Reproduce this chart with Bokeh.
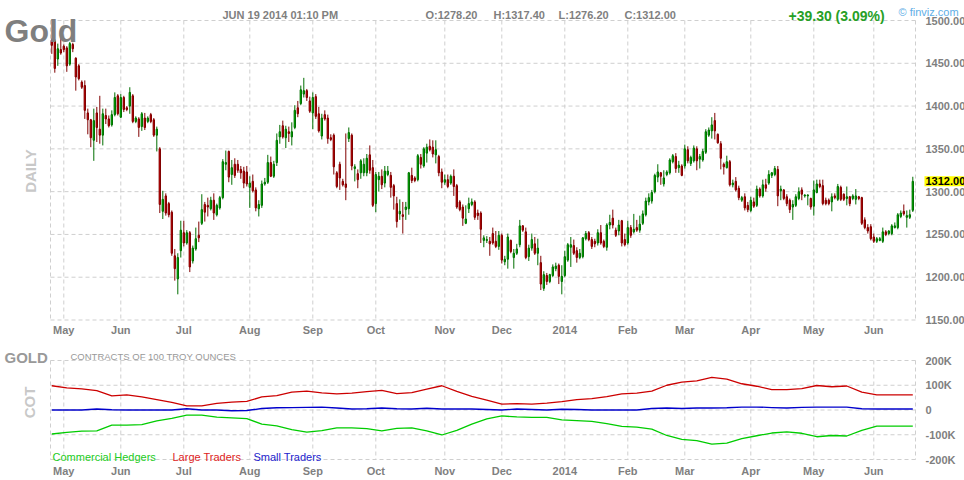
import numpy as np
from math import pi
from bokeh.plotting import figure
from bokeh.models import (Range1d, FixedTicker, Label, PrintfTickFormatter,
                          ColumnDataSource, LinearAxis)
from bokeh.embed import file_html
from bokeh.resources import INLINE

# ---------------- data ----------------
opens = [1477,1476,1455,1466,1470,1468,1449,1472,1456,1447,1428,1424,
1392,1384,1360,1392,1373,1366,1389,1385,1378,1390,1412,1387,
1410,1398,1400,1412,1382,1385,1376,1386,1382,1390,1384,1366,
1350,1277,1295,1286,1276,1225,1198,1231,1252,1240,1252,1219,
1233,1249,1263,1285,1284,1280,1290,1273,1281,1293,1332,1347,
1320,1332,1332,1326,1324,1323,1305,1312,1302,1280,1284,1309,
1311,1334,1318,1334,1364,1377,1363,1370,1364,1375,1398,1403,
1414,1418,1406,1392,1411,1391,1365,1390,1386,1363,1366,1322,
1332,1312,1309,1362,1366,1327,1321,1322,1322,1322,1343,1328,
1286,1314,1318,1310,1320,1319,1307,1286,1274,1273,1279,1280,
1319,1316,1314,1340,1330,1345,1353,1352,1343,1341,1323,1311,
1314,1310,1318,1307,1288,1282,1263,1280,1285,1288,1275,1275,
1243,1243,1242,1251,1242,1236,1249,1218,1221,1243,1223,1228,
1238,1260,1253,1224,1234,1239,1228,1217,1187,1202,1195,1202,
1210,1214,1195,1202,1220,1235,1237,1231,1223,1224,1245,1252,
1244,1242,1240,1252,1242,1235,1261,1269,1255,1254,1266,1244,
1240,1258,1253,1258,1255,1263,1273,1288,1289,1300,1317,1322,
1309,1320,1322,1335,1341,1328,1330,1330,1349,1333,1336,1350,
1338,1337,1346,1366,1371,1383,1367,1356,1332,1328,1335,1308,
1312,1304,1290,1294,1284,1278,1288,1284,1303,1295,1308,1310,
1319,1320,1326,1301,1302,1294,1290,1282,1284,1292,1302,1295,
1295,1292,1283,1299,1309,1307,1290,1290,1288,1295,1291,1305,
1297,1292,1294,1292,1291,1294,1293,1267,1258,1259,1247,1242,
1243,1242,1253,1251,1251,1258,1258,1271,1277,1270,1270,1278.2]

highs = [1479,1478,1473,1487,1472,1470,1475,1474,1457,1449,1430,1430,
1397,1385,1397,1399,1412,1397,1397,1389,1395,1416,1414,1414,
1412,1400,1422,1414,1388,1387,1393,1392,1388,1392,1386,1376,
1352,1301,1298,1288,1278,1233,1228,1266,1266,1255,1254,1237,
1258,1265,1297,1288,1293,1294,1298,1286,1295,1338,1348,1348,
1337,1339,1337,1330,1329,1330,1318,1320,1305,1290,1313,1316,
1343,1341,1336,1368,1378,1383,1377,1376,1381,1401,1406,1424,
1433,1420,1411,1416,1414,1399,1391,1395,1390,1367,1368,1324,
1335,1315,1368,1375,1368,1332,1326,1338,1339,1344,1354,1337,
1323,1323,1326,1330,1330,1323,1309,1294,1291,1288,1288,1323,
1328,1318,1344,1344,1352,1356,1361,1360,1360,1343,1327,1320,
1320,1320,1326,1309,1290,1285,1284,1293,1292,1290,1279,1277,
1249,1248,1247,1258,1254,1254,1251,1225,1251,1244,1233,1239,
1267,1261,1258,1238,1251,1247,1245,1225,1207,1205,1204,1215,
1217,1216,1214,1231,1240,1247,1244,1235,1233,1247,1254,1254,
1247,1245,1256,1261,1244,1263,1273,1279,1258,1267,1267,1251,
1266,1261,1274,1267,1272,1278,1293,1298,1302,1321,1332,1323,
1325,1325,1339,1344,1345,1336,1332,1355,1353,1342,1354,1353,
1344,1350,1373,1375,1387,1392,1368,1359,1334,1342,1337,1314,
1317,1307,1295,1298,1288,1294,1293,1307,1305,1314,1315,1325,
1323,1330,1330,1307,1303,1297,1292,1290,1297,1305,1305,1297,
1297,1293,1313,1314,1314,1314,1293,1292,1298,1298,1309,1307,
1298,1306,1295,1297,1303,1295,1294,1270,1262,1262,1251,1247,
1247,1258,1255,1255,1262,1264,1275,1278,1285,1278,1279,1317.4]

lows = [1461,1439,1447,1460,1463,1440,1447,1463,1418,1430,1420,1385,
1367,1352,1336,1358,1356,1354,1379,1375,1376,1388,1389,1386,
1393,1394,1391,1380,1380,1364,1371,1372,1380,1380,1364,1347,
1275,1268,1272,1270,1225,1196,1180,1223,1236,1238,1206,1216,
1231,1241,1261,1265,1271,1278,1267,1271,1279,1291,1325,1311,
1308,1316,1322,1315,1304,1306,1281,1299,1277,1271,1281,1307,
1309,1317,1316,1330,1356,1362,1351,1358,1354,1373,1387,1401,
1410,1406,1392,1373,1385,1369,1361,1383,1356,1359,1320,1304,
1302,1306,1290,1358,1325,1312,1304,1315,1318,1318,1321,1282,
1276,1300,1303,1305,1318,1293,1279,1258,1267,1251,1267,1273,
1310,1311,1312,1327,1328,1334,1347,1340,1333,1318,1304,1308,
1304,1308,1295,1280,1277,1260,1262,1275,1283,1267,1267,1240,
1235,1240,1225,1238,1234,1232,1216,1214,1210,1228,1210,1226,
1235,1253,1221,1219,1231,1226,1214,1185,1184,1191,1193,1200,
1207,1192,1180,1200,1218,1212,1226,1217,1221,1222,1243,1242,
1233,1235,1237,1238,1234,1231,1256,1257,1247,1249,1236,1236,
1238,1246,1251,1253,1252,1261,1271,1284,1286,1298,1311,1308,
1306,1318,1320,1333,1322,1322,1318,1327,1333,1330,1334,1325,
1327,1335,1344,1364,1362,1361,1356,1326,1320,1327,1306,1305,
1300,1290,1288,1278,1276,1276,1281,1282,1293,1293,1300,1308,
1316,1318,1283,1290,1290,1283,1275,1267,1282,1290,1290,1293,
1284,1279,1272,1298,1304,1284,1284,1284,1277,1291,1289,1289,
1289,1284,1283,1290,1285,1290,1261,1256,1251,1243,1240,1240,
1242,1240,1248,1249,1249,1257,1256,1269,1272,1258,1268,1276.2]

closes = [1471,1444,1467,1462,1466,1447,1473,1467,1434,1432,1422,1395,
1384,1363,1383,1375,1366,1391,1385,1377,1390,1410,1391,1410,
1396,1396,1416,1382,1386,1375,1391,1375,1386,1382,1366,1373,
1285,1291,1275,1273,1228,1210,1223,1255,1240,1252,1212,1234,
1245,1246,1279,1276,1282,1290,1275,1284,1293,1335,1334,1317,
1328,1319,1325,1322,1310,1309,1310,1301,1281,1285,1309,1311,
1334,1318,1332,1360,1370,1364,1373,1368,1370,1395,1391,1419,
1418,1410,1394,1410,1388,1371,1386,1385,1362,1361,1329,1306,
1316,1308,1305,1369,1330,1329,1314,1336,1332,1339,1325,1284,
1320,1318,1308,1324,1324,1305,1295,1265,1277,1271,1282,1322,
1313,1313,1342,1332,1350,1352,1349,1344,1349,1322,1311,1314,
1306,1318,1306,1282,1279,1269,1268,1286,1288,1270,1272,1256,
1246,1244,1239,1240,1236,1249,1220,1221,1247,1230,1228,1233,
1260,1255,1223,1234,1244,1228,1234,1192,1203,1195,1203,1212,
1213,1201,1201,1224,1238,1238,1228,1223,1228,1246,1251,1244,
1236,1239,1252,1240,1236,1261,1264,1261,1249,1261,1240,1238,
1258,1249,1256,1255,1262,1274,1289,1293,1299,1319,1323,1318,
1316,1323,1337,1342,1327,1331,1319,1350,1336,1340,1351,1336,
1341,1347,1370,1372,1378,1371,1357,1339,1329,1335,1308,1310,
1302,1293,1293,1281,1279,1290,1283,1303,1295,1308,1304,1320,
1322,1327,1295,1303,1292,1286,1279,1285,1294,1300,1297,1296,
1296,1282,1302,1309,1306,1286,1286,1286,1294,1293,1306,1291,
1291,1294,1286,1295,1295,1292,1263,1258,1254,1245,1242,1245,
1245,1253,1250,1254,1260,1260,1273,1275,1274,1272,1273,1312]

month_ticks = [4, 23, 44, 66, 87, 108, 131, 150, 171, 192, 211, 233, 254, 274]
month_labels = ["May", "Jun", "Jul", "Aug", "Sep", "Oct", "Nov", "Dec", "2014",
                "Feb", "Mar", "Apr", "May", "Jun"]
price_ticks = [1150, 1200, 1250, 1300, 1350, 1400, 1450, 1500]

cot_weeks = [0, 5, 10, 15, 20, 25, 30, 35, 40, 45, 50, 55, 60, 65, 70, 75, 80, 85, 90, 95,
             100, 105, 110, 115, 120, 125, 130, 135, 140, 145, 150, 155, 160, 165, 170, 175,
             180, 185, 190, 195, 200, 205, 210, 215, 220, 225, 230, 235, 240, 245, 250, 255,
             260, 265, 270, 275, 280, 285, 287]
large_traders = [98, 89, 85, 78, 57, 61, 53, 42, 31, 17, 17, 27, 32, 35, 53, 58, 72, 76, 69, 65,
                 68, 74, 79, 66, 70, 84, 98, 75, 55, 40, 24, 26, 24, 28, 34, 42, 46, 54, 65, 68,
                 76, 100, 113, 118, 132, 125, 106, 96, 82, 82, 86, 99, 94, 97, 72, 61, 61, 61, 61]
commercial = [-97, -90, -85, -84, -61, -61, -59, -44, -34, -21, -21, -29, -32, -35, -57, -64, -79,
              -89, -83, -72, -72, -75, -84, -74, -72, -84, -101, -82, -57, -36, -24, -28, -30, -30,
              -40, -43, -46, -55, -66, -69, -77, -103, -119, -124, -138, -134, -116, -104, -93,
              -88, -94, -108, -103, -105, -82, -65, -65, -65, -65]
small_traders = [0, 0, 0, 4, 1, 0, 0, 0, 0, 5, 0, 0, -3, -2, 6, 9, 10, 11, 12, 8, 4, 5, 8, 5, 4,
                 7, 4, 4, 4, 2, 0, 4, 2, 0, 3, 2, 0, 0, 0, 0, 6, 8, 6, 8, 8, 9, 12, 12, 10, 8, 11,
                 12, 12, 12, 5, 4, 4, 4, 4]
cot_ticks = [-200, -100, 0, 100, 200]
cot_tick_labels = ["-200K", "-100K", "0", "100K", "200K"]

# ---------------- layout (pixels of the 964x480 canvas) ----------------
W, H = 964, 480
BAR0_PX, BAR_PX = 51.3, 3.0          # centre of first candle, candle pitch
PANEL_L, PANEL_R = 50, 915           # left / right edge of both panels
PRICE_TOP_PX, PRICE_BOT_PX = 20, 319.5
COT_TOP_PX, COT_BOT_PX = 360, 459
P_LO, P_HI = 1150, 1500
C_LO, C_HI = -200, 200

FONT = "Liberation Sans"
GRID = "#cfcfcf"
AXC = "#7f7f7f"


def X(px):
    return (px - BAR0_PX) / BAR_PX


def YP(py):
    return P_HI - (py - PRICE_TOP_PX) * (P_HI - P_LO) / (PRICE_BOT_PX - PRICE_TOP_PX)


def YC(py):
    return C_HI - (py - COT_TOP_PX) * (C_HI - C_LO) / (COT_BOT_PX - COT_TOP_PX)


p = figure(width=W, height=H, x_range=Range1d(X(0), X(W)), y_range=Range1d(YP(H), YP(0)),
           x_axis_location=None, y_axis_location=None, toolbar_location=None,
           output_backend="svg", min_border=0)
p.extra_y_ranges = {"cot": Range1d(YC(H), YC(0))}
p.center = []
p.outline_line_color = None
p.background_fill_color = "white"
p.border_fill_color = "white"

XL, XR = X(PANEL_L), X(PANEL_R)
gkw = dict(line_color=GRID, line_width=1, line_dash="4 3")
vx = [XL] + month_ticks + [XR]
# price panel grid
p.segment(x0=[XL] * len(price_ticks), y0=price_ticks, x1=[XR] * len(price_ticks), y1=price_ticks, **gkw)
p.segment(x0=vx, y0=[P_HI] * len(vx), x1=vx, y1=[P_LO] * len(vx), **gkw)
# COT panel grid
p.segment(x0=[XL] * len(cot_ticks), y0=cot_ticks, x1=[XR] * len(cot_ticks), y1=cot_ticks,
          y_range_name="cot", **gkw)
p.segment(x0=vx, y0=[C_HI] * len(vx), x1=vx, y1=[C_LO] * len(vx), y_range_name="cot", **gkw)


def style_axis(ax):
    ax.axis_line_color = None
    ax.major_tick_line_color = None
    ax.minor_tick_line_color = None
    ax.major_tick_out = 0
    ax.major_tick_in = 0
    ax.major_label_text_font = FONT
    ax.major_label_text_font_style = "bold"
    ax.major_label_text_font_size = "11px"
    ax.major_label_text_color = AXC


price_axis = LinearAxis(ticker=FixedTicker(ticks=price_ticks),
                        formatter=PrintfTickFormatter(format="%.2f"),
                        fixed_location=XR, major_label_standoff=10)
cot_axis = LinearAxis(y_range_name="cot", ticker=FixedTicker(ticks=cot_ticks),
                      major_label_overrides={t: s for t, s in zip(cot_ticks, cot_tick_labels)},
                      fixed_location=XR, major_label_standoff=10)
month_axis_1 = LinearAxis(ticker=FixedTicker(ticks=month_ticks),
                          major_label_overrides={t: s for t, s in zip(month_ticks, month_labels)},
                          fixed_location=P_LO, major_label_standoff=4)
month_axis_2 = LinearAxis(y_range_name="cot", ticker=FixedTicker(ticks=month_ticks),
                          major_label_overrides={t: s for t, s in zip(month_ticks, month_labels)},
                          fixed_location=C_LO, major_label_standoff=5)
for ax, side in ((price_axis, "right"), (cot_axis, "right"),
                 (month_axis_1, "below"), (month_axis_2, "below")):
    style_axis(ax)
    p.add_layout(ax, side)

# ---------------- candles ----------------
o = np.array(opens, dtype=float)
h = np.array(highs, dtype=float)
l = np.array(lows, dtype=float)
c = np.array(closes, dtype=float)
idx = np.arange(len(c))
up = c >= o
for mask, fill, edge in ((up, "#00dd00", "#006e00"), (~up, "#e80000", "#800000")):
    src = ColumnDataSource(dict(x=idx[mask], top=np.maximum(o, c)[mask],
                                bottom=np.minimum(o, c)[mask], hi=h[mask], lo=l[mask]))
    p.segment(x0="x", y0="lo", x1="x", y1="hi", source=src, line_color=edge, line_width=1)
    p.vbar(x="x", top="top", bottom="bottom", width=0.45, source=src,
           fill_color=fill, line_color=edge, line_width=1)

# ---------------- COT lines ----------------
p.line(cot_weeks, commercial, line_color="#00cc00", line_width=1.3, y_range_name="cot")
p.line(cot_weeks, large_traders, line_color="#cc0000", line_width=1.3, y_range_name="cot")
p.line(cot_weeks, small_traders, line_color="#0000cc", line_width=1.3, y_range_name="cot")


# ---------------- texts ----------------
def lab(text, px, py, size, color, bold=True, align="left", baseline="alphabetic", angle=0, **kw):
    p.add_layout(Label(x=X(px), y=YP(py), text=text, text_font=FONT,
                       text_font_size=size, text_color=color,
                       text_font_style="bold" if bold else "normal",
                       text_align=align, text_baseline=baseline, angle=angle, **kw))


lab("Gold", 4, 30.5, "32px", "#7f7f7f")
lab("JUN 19 2014 01:10 PM", 222, 14.5, "11px", AXC)
lab("O:1278.20", 425, 14.5, "11px", AXC)
lab("H:1317.40", 493, 14.5, "11px", AXC)
lab("L:1276.20", 558, 14.5, "11px", AXC)
lab("C:1312.00", 624, 14.5, "11px", AXC)
lab("+39.30 (3.09%)", 788, 15.5, "14px", "#26a026")
lab("\u00a9 finviz.com", 898, 11.5, "11px", "#5eaee6", bold=False)
lab("DAILY", 30, 170.5, "15px", "#c8c8c8", align="center", baseline="middle", angle=pi / 2)
lab("1312.00", 924, YP(0) and 180.8, "11px", "black", baseline="middle",
    background_fill_color="#ffff00", padding=1)

lab("GOLD", 4, 356.5, "15px", "#999999")
lab("CONTRACTS OF 100 TROY OUNCES", 70, 355.5, "9.5px", "#999999", bold=False)
lab("COT", 29, 402, "15px", "#c8c8c8", align="center", baseline="middle", angle=pi / 2)
lab("Commercial Hedgers", 52, 456.5, "11px", "#22cc22", bold=False)
lab("Large Traders", 172, 456.5, "11px", "#dd2222", bold=False)
lab("Small Traders", 253, 456.5, "11px", "#2222cc", bold=False)

open("out.html", "w").write(file_html(p, INLINE))
